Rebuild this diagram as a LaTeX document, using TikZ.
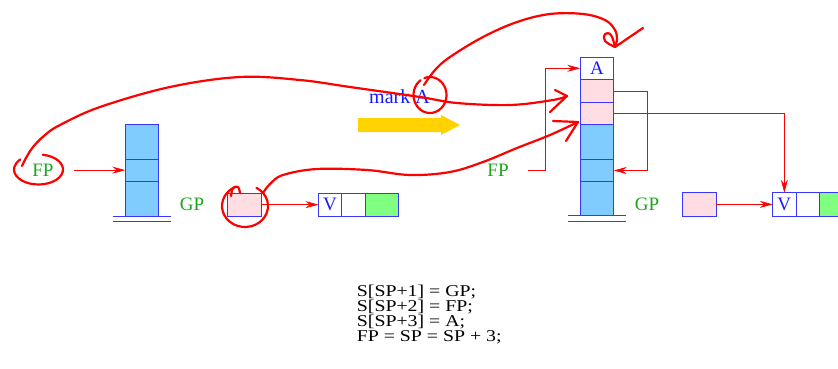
\documentclass[tikz,border=0pt]{standalone}
\usepackage{fontspec}
\setmainfont{Liberation Serif}
\newfontfamily\codefont[FakeStretch=1.2]{Liberation Serif}
\usetikzlibrary{arrows.meta}

\definecolor{stackblue}{RGB}{128,204,255}
\definecolor{edgeblue}{RGB}{55,55,255}
\definecolor{slotpink}{RGB}{255,221,226}
\definecolor{slotgreen}{RGB}{128,255,128}
\definecolor{labelgreen}{RGB}{30,165,30}
\definecolor{txtblue}{RGB}{25,25,255}
\definecolor{markgold}{RGB}{255,210,0}
\definecolor{inkred}{RGB}{255,0,0}

\begin{document}
\begin{tikzpicture}[x=1pt,y=-1pt,
  cell/.style={draw=edgeblue, line width=0.9pt, inner sep=0pt, outer sep=0pt,
               font=\fontsize{19}{19}\selectfont, text=txtblue},
  stackcell/.style={cell, fill=stackblue, minimum width=33.5pt},
  pinkcell/.style={cell, fill=slotpink, minimum width=33.5pt},
  topcell/.style={cell, fill=white, minimum width=33.5pt},
  reccell/.style={cell, fill=white, minimum width=23.3pt, minimum height=22.7pt},
  greencell/.style={cell, fill=slotgreen, minimum width=33.3pt, minimum height=22.7pt},
  regname/.style={text=labelgreen, font=\fontsize{19}{19}\selectfont, inner sep=0pt},
  codeline/.style={anchor=base west, inner sep=0pt, font=\codefont\fontsize{16.5}{16.5}\selectfont},
  baseline/.style={draw=edgeblue, line width=1pt},
  ptr/.style={draw=inkred, line width=0.6pt,
              -{Stealth[length=13pt,width=7pt,inset=4.5pt]}},
  ink/.style={draw=inkred, line width=2.2pt, line cap=round, line join=round},
]
\clip (0,0) rectangle (838,368);
\fill[white] (0,0) rectangle (838,368);

% ---------- before: stack, registers, heap object ----------
\node[stackcell, minimum height=35pt]   (l1) at (142,141.8) {};
\node[stackcell, minimum height=21.7pt] (l2) at (142,170.15) {};
\node[stackcell, minimum height=35pt]   (l3) at (142,198.5) {};
\draw[baseline] ([xshift=-12pt]l3.south west) -- ([xshift=12pt]l3.south east);
\draw[baseline] ([xshift=-12pt,yshift=-5.7pt]l3.south west) -- ([xshift=12pt,yshift=-5.7pt]l3.south east);

\node[regname] (fpL) at (43,170) {FP};
\node[regname] (gpL) at (192,204) {GP};
\coordinate (fpLtail) at (74,170.15);
\draw[ptr] (fpLtail) -- (l2.west);

\node[pinkcell, minimum height=22.7pt] (gpboxL) at (244.35,204.65) {};
\node[reccell]   (vL1) at (330,204.65) {V};
\node[reccell]   (vL2) at (353.35,204.65) {};
\node[greencell] (vL3) at (381.65,204.65) {};
\draw[ptr] (gpboxL.east) -- (vL1.west);

% ---------- transition ----------
\node[anchor=base west, inner sep=0pt, text=txtblue, font=\fontsize{20}{20}\selectfont]
  (markA) at (369,103) {mark A};
\fill[markgold] (358,118) -- (441,118) -- (441,115) -- (460,125)
  -- (441,135) -- (441,132) -- (358,132) -- cycle;

% ---------- after: new frame on the stack ----------
\node[topcell,   minimum height=22pt]   (rA)  at (597,68.3)  {A};
\node[pinkcell,  minimum height=23pt]   (rP1) at (597,90.8)  {};
\node[pinkcell,  minimum height=22.4pt] (rP2) at (597,113.5) {};
\node[stackcell, minimum height=34.6pt] (rB1) at (597,142)   {};
\node[stackcell, minimum height=22.4pt] (rB2) at (597,170.5) {};
\node[stackcell, minimum height=34pt]   (rB3) at (597,198.7) {};
\draw[baseline] ([xshift=-12pt]rB3.south west) -- ([xshift=12pt]rB3.south east);
\draw[baseline] ([xshift=-12pt,yshift=-6pt]rB3.south west) -- ([xshift=12pt,yshift=-6pt]rB3.south east);

\node[regname] (fpR) at (498,170) {FP};
\node[regname] (gpR) at (647,204) {GP};
\coordinate (fpRtail) at (528,170.7);
\draw[ptr] (fpRtail) -- ++(17,0) |- (rA.west);
\draw[ptr] (rP1.east) -- ++(34,0) |- (rB2.east);

\node[pinkcell, minimum height=23.3pt] (gpboxR) at (699.35,204.35) {};
\node[reccell, minimum height=23.3pt]   (vR1) at (784.35,204.35) {V};
\node[reccell, minimum height=23.3pt]   (vR2) at (807.65,204.35) {};
\node[greencell, minimum height=23.3pt] (vR3) at (835.95,204.35) {};
\draw[ptr] (rP2.east) -| (vR1.north);
\draw[ptr] (gpboxR.east) -- (vR1.west);

% ---------- code ----------
\node[codeline] (code1) at (356.7,296.2) {S[SP+1] = GP;};
\node[codeline] (code2) at (356.7,311.2) {S[SP+2] = FP;};
\node[codeline] (code3) at (356.7,326.2) {S[SP+3] = A;};
\node[codeline] (code4) at (356.7,341.2) {FP = SP = SP + 3;};

% ---------- hand-drawn annotations ----------
% circle round the old FP and the stroke to its slot
\draw[ink] (38.5,169.5) ++(-80:24.5 and 15)
  arc[start angle=-80, end angle=222, x radius=24.5, y radius=15];
\draw[ink] plot[smooth, tension=0.6] coordinates {(22,166) (26,158) (33,147) (45,135)
  (60,125) (100,107) (170,87) (240,77) (300,80) (350,87) (420,97) (457,103)
  (510,105) (553,100) (567,96)};
\draw[ink] (555,90) -- (567,96) -- (550,112);

% circle round A and the stroke to the new top cell
\draw[ink] (430,95) ++(-110:16.5 and 18)
  arc[start angle=-110, end angle=235, x radius=16.5, y radius=18];
\draw[ink] plot[smooth, tension=0.6] coordinates {(424,85) (435,70) (450,57)
  (483,37) (517,22) (550,14) (583,14) (605,20) (615,30) (617,40) (615,47)};
\draw[ink] plot[smooth, tension=0.7] coordinates {(615,47) (605,41) (605,34) (611,35) (615,47)};
\draw[ink] (643,28) -- (615,47);

% circle round the old GP box and the stroke to its slot
\draw[ink] (245,206) ++(-60:23 and 21)
  arc[start angle=-60, end angle=245, x radius=23, y radius=21];
\draw[ink] plot[smooth, tension=0.6] coordinates {(231,196) (233,188) (238,187) (240,193)};
\draw[ink] plot[smooth, tension=0.6] coordinates {(263,193) (270,184) (283,175)
  (317,169) (367,170) (410,175) (450,172) (483,162) (517,148) (550,135) (578,122)};
\draw[ink] (553,121) -- (578,122) -- (566,141);
\end{tikzpicture}
\end{document}
